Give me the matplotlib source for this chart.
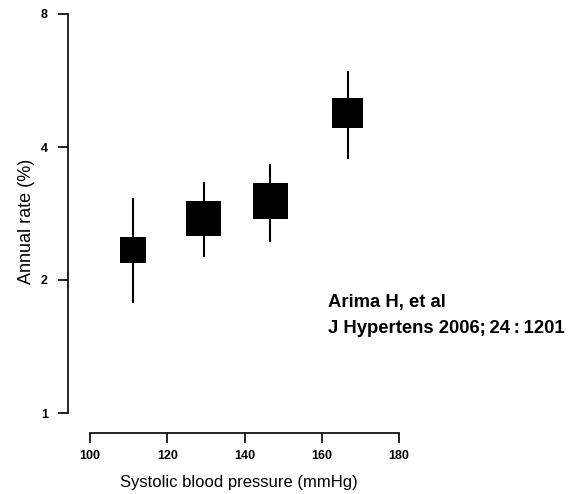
import numpy as np
import matplotlib
matplotlib.use("Agg")
import matplotlib.pyplot as plt

# Data
sbp = [111.2, 129.4, 146.7, 166.7]          # systolic blood pressure (mmHg)
rate = [2.34, 2.76, 3.02, 4.77]             # annual rate (%)
ci_low = [1.77, 2.25, 2.44, 3.76]
ci_high = [3.07, 3.33, 3.66, 5.94]
box_side_pt = [18.4, 25.2, 25.6, 22.0]      # box size (precision weight)

x_ticks = [100, 120, 140, 160, 180]
y_ticks = [1, 2, 4, 8]
y_ticklabels = ["1", "2", "4", "8"]

plt.rcParams['font.family'] = ['Liberation Sans', 'DejaVu Sans']

W, H = 577, 494
fig = plt.figure(figsize=(W / 100, H / 100), dpi=100)

# pixel geometry of the reference
ax_left_px, ax_right_px = 68, 410
ax_bottom_px, ax_top_px = 433, 10
ax = fig.add_axes([ax_left_px / W, (H - ax_bottom_px) / H,
                   (ax_right_px - ax_left_px) / W, (ax_bottom_px - ax_top_px) / H])

ax.set_yscale('log', base=2)
ppu = (399 - 90) / 80.0
ax.set_xlim(100 - (90 - ax_left_px) / ppu, 180 + (ax_right_px - 399) / ppu)
ppd = (413 - 14) / 3.0
ax.set_ylim(2 ** ((413 - ax_bottom_px) / ppd), 2 ** ((413 - ax_top_px) / ppd))

ax.vlines(sbp, ci_low, ci_high, color='black', linewidth=1.5, zorder=2)
ax.scatter(sbp, rate, marker='s', s=np.array(box_side_pt) ** 2,
           color='black', linewidths=0, zorder=3)

for s in ['top', 'right']:
    ax.spines[s].set_visible(False)
ax.spines['left'].set_bounds(1, 8)
ax.spines['bottom'].set_bounds(100, 180)
ax.spines['left'].set_linewidth(1.2)
ax.spines['bottom'].set_linewidth(1.2)

ax.set_xticks(x_ticks)
ax.set_xticklabels([str(t) for t in x_ticks])
ax.set_yticks(y_ticks)
ax.set_yticklabels(y_ticklabels)
ax.yaxis.set_minor_locator(matplotlib.ticker.NullLocator())
ax.tick_params(axis='both', direction='out', length=7.5, width=1.2,
               labelsize=9, pad=5)
ax.tick_params(axis='y', pad=7)
for lab in ax.get_xticklabels() + ax.get_yticklabels():
    lab.set_fontweight('bold')

ax.set_xlabel("Systolic blood pressure (mmHg)", fontsize=12, labelpad=9)
ax.set_ylabel("Annual rate (%)", fontsize=13, labelpad=4)

fig.text(328 / W, 1 - 307 / H, "Arima H, et al", fontsize=13.3,
         fontweight='bold', ha='left', va='baseline')
fig.text(328 / W, 1 - 333 / H, "J Hypertens 2006;\u200924\u2009:\u20091201",
         fontsize=13.3, fontweight='bold', ha='left', va='baseline')

fig.savefig("out.png", dpi=100)
